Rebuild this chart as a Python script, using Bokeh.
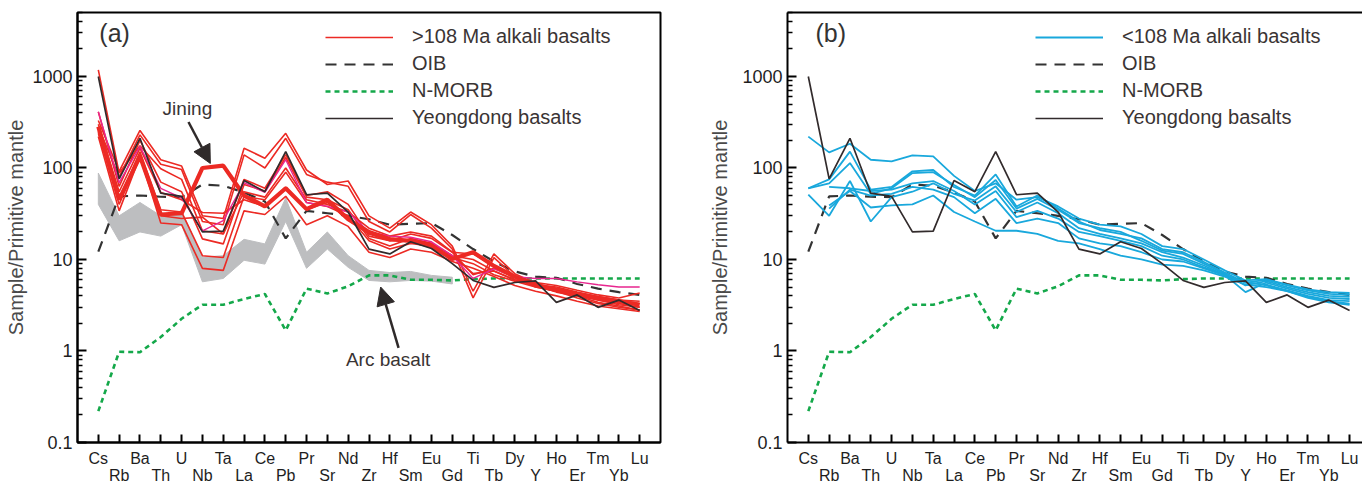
import math
from bokeh.plotting import figure
from bokeh.models import (Range1d, FixedTicker, LinearAxis, Legend, LegendItem,
                          Label, Arrow, NormalHead, ColumnDataSource)
from bokeh.layouts import row
from bokeh.embed import file_html
from bokeh.resources import INLINE

NaN = float("nan")

elements = ["Cs", "Rb", "Ba", "Th", "U", "Nb", "Ta", "La", "Ce", "Pb", "Pr", "Sr", "Nd",
            "Zr", "Hf", "Sm", "Eu", "Gd", "Ti", "Tb", "Dy", "Y", "Ho", "Er", "Tm", "Yb", "Lu"]
y_tick_values = [0.1, 1, 10, 100, 1000]
y_tick_labels = ["0.1", "1", "10", "100", "1000"]

oib = [12.2, 49, 50, 48.5, 48, 66, 64, 54, 43, 17, 34, 32, 30, 27.5, 24, 24.5, 25, 18.5,
       13, 9.5, 7.4, 6.5, 6.3, 5.4, 4.8, 4.4, 4.1]
nmorb = [0.22, 0.98, 0.97, 1.42, 2.25, 3.2, 3.2, 3.7, 4.2, 1.68, 4.8, 4.25, 5.1, 6.7, 6.7,
         6.0, 6.0, 5.9, 6.1, 6.2, 6.2, 6.2, 6.2, 6.2, 6.2, 6.2, 6.2]
yeongdong = [1000, 76, 211, 53, 49, 20, 20.4, 73, 55, 151, 51, 53, 33, 13, 11.5, 15.6, 13.2,
             9.0, 5.9, 4.95, 5.6, 5.85, 3.4, 4.1, 3.0, 3.6, 2.77]

# >108 Ma alkali basalts (thin red lines)
old_1 = [330, 92, 257, 123, 105, 30, 28, 164, 128, 239, 95, 66, 72, 30, 22, 33, 24, 14,
         4.5, 11.5, 7.0, 5.5, 4.6, 4.2, 3.6, 3.3, 3.0]
old_2 = [280, 80, 230, 110, 96, 26, 24, 139, 100, 211, 85, 70, 63, 26, 20, 31, 22, 13,
         3.8, 10.5, 6.5, 5.2, 4.4, 4.0, 3.4, 3.1, 2.8]
old_3 = [1180, 88, 175, 98, 75, 20.6, 19, 75, 60, 140, 50, 55, 40, 18, 16, 19, 17, 12,
         6.8, 8.0, 6.3, 5.0, 4.5, 3.8, 3.3, 3.0, 2.8]
old_4 = [410, 63, 200, 70, 55, 16.8, 14.8, 66, 56, 130, 48, 45, 35, 17, 14, 17, 15, 11,
         7.0, 7.5, 6.0, 5.3, 5.0, 4.4, 3.9, 3.6, 3.3]
old_5 = [250, 45, 150, 35, 33, 11, 10.5, 49, 45, 90, 42, 38, 30, 16, 13, 15, 14, 10.5,
         9.0, 6.8, 5.8, 5.0, 4.5, 4.0, 3.6, 3.2, 3.0]
old_6 = [220, 34, 134, 25, 24, 8.0, 7.6, 34, 31, 49, 24, 30, 23, 12, 10.5, 13, 12, 9.5,
         8.0, 6.5, 5.2, 4.5, 4.0, 3.5, 3.1, 2.9, 2.7]
old_7 = [300, 55, 165, 54, 45, 32.6, 32, 45, 38, 62, 35, 42, 27, 19, 16, 16, 15, 11,
         10, 7.5, 6.0, 5.2, 4.8, 4.3, 3.9, 3.6, 3.5]
old_8 = [240, 40, 140, 30, 28, 29, 19, 55, 48, 100, 45, 40, 33, 22, 18, 20, 18, 12,
         11.5, 8.5, 6.6, 5.6, 5.2, 4.6, 4.1, 3.8, 4.3]
old_magenta = [411, 69, 172, 60, 47, 20.6, 26.6, 69, 54, 123, 42, 38, 33, 20, 18, 17.5,
               15.6, 11, 6.2, 7.9, 6.5, 6.2, 6.2, 5.7, 5.3, 5.0, 5.0]
jining = [283, 45, 134, 31, 32, 100, 106, 50, 38, 60, 35.5, 45, 27.5, 20, 16.7, 16, 14,
          10.1, 12, 8.5, 6.5, 5.3, 4.7, 4.2, 3.8, 3.5, 3.2]

# <108 Ma alkali basalts (blue lines)
young_1 = [220, 148, 184, 123, 118, 137, 134, 82, 56, 68, 45, 48, 38, 28, 24, 23, 19, 14,
           13, 10, 7.6, 5.9, 6.1, 5.3, 4.7, 4.4, 4.3]
young_2 = [60, 75, 151, 58, 62, 92, 95, 62, 50, 85, 38, 50, 36, 26, 21, 19, 17, 13, 12,
           9.4, 7.2, 5.6, 6.0, 5.2, 4.6, 4.2, 4.1]
young_3 = [60, 68, 113, 52, 60, 88, 90, 65, 48, 74, 36, 46, 35, 25, 22, 20, 16, 12.5,
           11.5, 9.0, 7.0, 5.2, 5.8, 5.0, 4.4, 4.0, 3.9]
young_4 = [51, 30, 72, 26, 48, 55, 68, 52, 44, 63, 33, 42, 32, 22, 19, 17, 15, 12, 10.5,
           8.6, 6.8, 4.4, 5.6, 4.8, 4.2, 3.8, 3.7]
young_5 = [NaN, 39, 56, 37, 39, 40, 50, 33, 26, 20.6, 20.6, 19, 16, 15, 13, 11, 10, 8.8,
           8.5, 7.6, 6.5, 5.3, 5.0, 4.5, 3.8, 3.4, 3.2]
young_6 = [NaN, 62, 60, 56, 58, 68, 72, 56, 40, 56, 29, 34, 28, 20, 18, 16, 14, 11, 10,
           8.2, 6.8, 5.6, 5.3, 4.6, 4.0, 3.6, 3.5]
young_7 = [NaN, 36, 58, 50, 52, 62, 58, 48, 32, 46, 25, 28, 25, 17, 15, 14, 12, 10, 9.5,
           8.0, 6.7, 5.7, 5.2, 4.5, 3.9, 3.5, 3.3]

# Arc basalt field (Cs .. Gd)
arc_upper = [88, 30, 42, 30, 34, 10.6, 11, 16.6, 14.8, 47, 12, 20, 11, 7.6, 7.2, 7.4,
             6.7, 6.4]
arc_lower = [40, 16, 20, 18, 24, 5.7, 6.2, 9.8, 8.9, 26, 8, 13, 8.2, 5.9, 5.7, 5.9,
             5.8, 5.4]

FONT = "Liberation Sans"
RED = "#ec2a24"
BLUE = "#19a8dc"
BLACK = "#322b2c"
GREEN = "#14a84a"
TXT = "#3a3434"

idx = list(range(len(elements)))
evens = idx[0::2]
odds = idx[1::2]
minor_y = [m * 10.0 ** e for e in range(-1, 4) for m in range(2, 10) if m * 10.0 ** e <= 5000]


def base_figure(width, left_border, right_border, x_end, ylabel_standoff):
    p = figure(width=width, height=486, x_range=Range1d(-1, x_end),
               y_range=Range1d(0.1, 5000), y_axis_type="log",
               output_backend="svg", toolbar_location=None,
               min_border_left=left_border, min_border_right=right_border,
               min_border_top=12, min_border_bottom=41)
    p.grid.visible = False
    p.background_fill_color = "white"
    p.border_fill_color = "white"

    ya = p.yaxis[0]
    ya.ticker = FixedTicker(ticks=y_tick_values, minor_ticks=minor_y)
    ya.major_label_overrides = {v: s for v, s in zip(y_tick_values, y_tick_labels)}
    ya.major_tick_in = 9
    ya.major_tick_out = 0
    ya.minor_tick_in = 5
    ya.minor_tick_out = 0
    ya.major_tick_line_width = 2
    ya.minor_tick_line_width = 1.5
    ya.axis_line_width = 2
    ya.major_label_standoff = 5
    ya.major_label_text_font = FONT
    ya.major_label_text_font_size = "18px"
    ya.major_label_text_color = "#1e1e1e"
    ya.axis_label = "Sample/Primitive mantle"
    ya.axis_label_text_font = FONT
    ya.axis_label_text_font_size = "20px"
    ya.axis_label_text_font_style = "normal"
    ya.axis_label_text_color = "#4a4a4a"
    ya.axis_label_standoff = ylabel_standoff

    xa = p.xaxis[0]
    xa.ticker = FixedTicker(ticks=evens, minor_ticks=odds)
    xa.major_label_overrides = {i: elements[i] for i in evens}
    xa.major_tick_in = 8
    xa.major_tick_out = 0
    xa.minor_tick_in = 8
    xa.minor_tick_out = 0
    xa.major_tick_line_width = 2
    xa.minor_tick_line_width = 2
    xa.axis_line_width = 2
    xa.major_label_standoff = 7
    xa.major_label_text_font = FONT
    xa.major_label_text_font_size = "16px"
    xa.major_label_text_color = "#1e1e1e"

    xb = LinearAxis(ticker=FixedTicker(ticks=odds, minor_ticks=[]),
                    major_label_overrides={i: elements[i] for i in odds},
                    axis_line_color=None, major_tick_line_color=None,
                    minor_tick_line_color=None, major_label_standoff=-9,
                    major_label_text_font=FONT, major_label_text_font_size="16px",
                    major_label_text_color="#1e1e1e")
    p.add_layout(xb, "below")
    return p


def common_lines(p):
    src = ColumnDataSource(dict(x=idx, oib=oib, nmorb=nmorb, yd=yeongdong))
    r_nmorb = p.line("x", "nmorb", source=src, line_color=GREEN, line_width=2.6,
                     line_dash="5 4")
    r_oib = p.line("x", "oib", source=src, line_color="#333333", line_width=2.2,
                   line_dash="11 8")
    return src, r_oib, r_nmorb


def add_legend(p, first_label, first_renderer, r_oib, r_nmorb, r_yd):
    items = [LegendItem(label=first_label, renderers=[first_renderer]),
             LegendItem(label="OIB", renderers=[r_oib]),
             LegendItem(label="N-MORB", renderers=[r_nmorb]),
             LegendItem(label="Yeongdong basalts", renderers=[r_yd])]
    lg = Legend(items=items, location=(248, 313), glyph_width=68, glyph_height=20,
                label_height=20, label_standoff=19, spacing=4, padding=0, margin=0,
                border_line_color=None, background_fill_alpha=0,
                label_text_font=FONT, label_text_font_size="20px",
                label_text_color=TXT)
    p.add_layout(lg)


# ---------------- panel (a) ----------------
pa = base_figure(700, 77, 40, 27, 2)
pa.outline_line_color = "black"
pa.outline_line_width = 2

arc_x = idx[:len(arc_upper)]
pa.patch(arc_x + arc_x[::-1], arc_upper + arc_lower[::-1], fill_color="#bdbec0",
         line_color="#bdbec0", line_width=1)

src_a, oib_a, nmorb_a = common_lines(pa)
old_lines = [old_1, old_2, old_3, old_4, old_5, old_6, old_7, old_8]
r_red = pa.multi_line(xs=[idx] * len(old_lines), ys=old_lines, line_color=RED,
                      line_width=1.6)
pa.line(idx, old_magenta, line_color="#e8268f", line_width=1.4)
pa.line(idx, jining, line_color=RED, line_width=4.2)
yd_a = pa.line("x", "yd", source=src_a, line_color=BLACK, line_width=1.7)
add_legend(pa, ">108 Ma alkali basalts", r_red, oib_a, nmorb_a, yd_a)

pa.add_layout(Label(x=0.05, y=2950, text="(a)", text_font=FONT, text_font_size="25px",
                    text_color="#333333", text_baseline="middle", text_align="left"))
pa.add_layout(Label(x=4.28, y=450, text="Jining", text_font=FONT, text_font_size="19px",
                    text_color=TXT, text_baseline="middle", text_align="center"))
pa.add_layout(Label(x=13.92, y=0.80, text="Arc basalt", text_font=FONT,
                    text_font_size="19px", text_color=TXT, text_baseline="middle",
                    text_align="center"))
pa.add_layout(Arrow(x_start=4.33, y_start=318, x_end=5.38, y_end=112,
                    line_color="#2f2a2a", line_width=2.5,
                    end=NormalHead(size=18, fill_color="#2f2a2a", line_color="#2f2a2a")))
pa.add_layout(Arrow(x_start=14.42, y_start=1.08, x_end=13.56, y_end=5.0,
                    line_color="#2f2a2a", line_width=2.5,
                    end=NormalHead(size=18, fill_color="#2f2a2a", line_color="#2f2a2a")))

# ---------------- panel (b) ----------------
pb = base_figure(662, 87, 0, 26.62, 8)
pb.outline_line_color = None
top_axis = LinearAxis(ticker=FixedTicker(ticks=[], minor_ticks=[]), axis_line_width=2,
                      major_tick_line_color=None, minor_tick_line_color=None,
                      major_label_text_font_size="0px")
pb.add_layout(top_axis, "above")

src_b, oib_b, nmorb_b = common_lines(pb)
young_lines = [young_1, young_2, young_3, young_4, young_5, young_6, young_7]
r_blue = pb.multi_line(xs=[idx] * len(young_lines), ys=young_lines, line_color=BLUE,
                       line_width=1.8)
yd_b = pb.line("x", "yd", source=src_b, line_color=BLACK, line_width=1.7)
add_legend(pb, "<108 Ma alkali basalts", r_blue, oib_b, nmorb_b, yd_b)
pb.add_layout(Label(x=0.34, y=2950, text="(b)", text_font=FONT, text_font_size="25px",
                    text_color="#333333", text_baseline="middle", text_align="left"))

layout = row(pa, pb)
open("out.html", "w").write(file_html(layout, INLINE))
